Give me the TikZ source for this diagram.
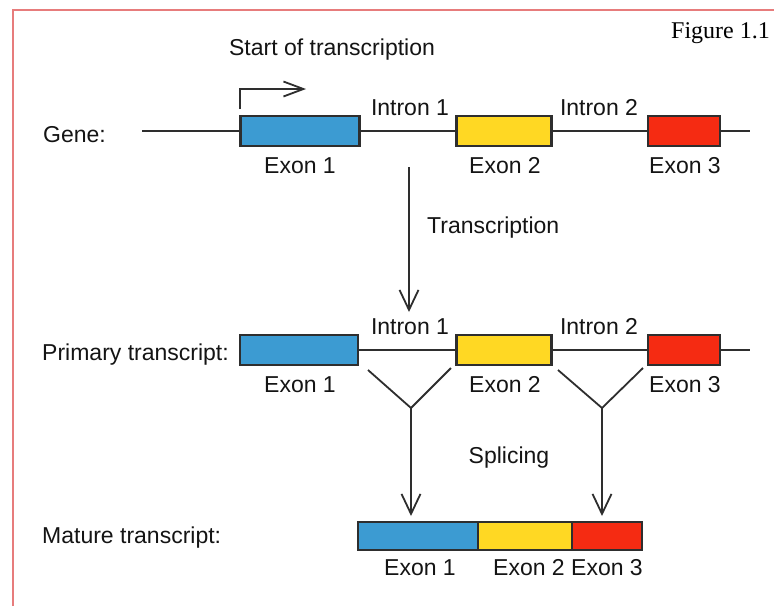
\documentclass[tikz,border=0pt]{standalone}
\usepackage{fontspec}
\setmainfont{Liberation Sans}
\newfontfamily\timesfont{Liberation Serif}
\usetikzlibrary{arrows.meta}
\definecolor{exblue}{HTML}{3C9BD2}
\definecolor{exyellow}{HTML}{FFD823}
\definecolor{exred}{HTML}{F52B12}
\definecolor{dnaline}{HTML}{2E2E2E}
\definecolor{frame}{HTML}{E77C7C}
\begin{document}
\begin{tikzpicture}[x=1pt,y=-1pt,
  exon/.style={draw=dnaline, line width=2.2pt, minimum height=30pt, inner sep=0pt},
  lbl/.style={inner sep=0pt, font=\fontsize{23}{26}\selectfont, text=black!92},
  strand/.style={draw=dnaline, line width=2pt},
  arr/.style={draw=dnaline, line width=1.8pt, -{Straight Barb[length=20pt,width=19pt,line width=1.8pt]}}]
\useasboundingbox (0,0) rectangle (774,606);
\fill[white] (0,0) rectangle (774,606);
% frame
\draw[frame, line width=2pt] (13,606) -- (13,10) -- (774,10);
% figure label
\node[anchor=west, inner sep=0pt, font=\timesfont\fontsize{24}{27}\selectfont] (fig) at (671,33) {Figure 1.1};

% ---- Gene row ----
\coordinate (gstart) at (142,131);
\coordinate (gend) at (750,131);
\draw[strand] (gstart) -- (gend);
\node[exon, fill=exblue, minimum width=119pt] (g1) at (300,131) {};
\node[exon, fill=exyellow, minimum width=95pt] (g2) at (504,131) {};
\node[exon, fill=exred, minimum width=72pt] (g3) at (684,131) {};
\node[lbl, anchor=west] (gene) at (43,135) {Gene:};
\node[lbl] (gl1) at (300,166) {Exon 1};
\node[lbl] (gl2) at (505,166) {Exon 2};
\node[lbl] (gl3) at (685,166) {Exon 3};
\node[lbl] (gi1) at (410,108) {Intron 1};
\node[lbl] (gi2) at (599,108) {Intron 2};
\node[lbl] (start) at (332,50) {Start of transcription};
\coordinate (bentA) at (240,109);
\coordinate (bentB) at (240,89);
\coordinate (bentC) at (306,89);
\draw[arr, -{Straight Barb[length=20pt,width=15pt,line width=1.8pt]}] (bentA) -- (bentB) -- (bentC);

% ---- Transcription ----
\coordinate (tA) at (409,167);
\coordinate (tB) at (409,312);
\draw[arr] (tA) -- (tB);
\node[lbl, anchor=west] (trans) at (427,228) {Transcription};

% ---- Primary transcript ----
\coordinate (pend) at (750,350);
\node[exon, fill=exblue, minimum width=118pt] (p1) at (299,350) {};
\node[exon, fill=exyellow, minimum width=95pt] (p2) at (504,350) {};
\node[exon, fill=exred, minimum width=72pt] (p3) at (684,350) {};
\draw[strand] (p1.east) -- (p2.west) (p2.east) -- (p3.west) (p3.east) -- (pend);
\node[lbl, anchor=west] (prim) at (42,355) {Primary transcript:};
\node[lbl] (pl1) at (300,385) {Exon 1};
\node[lbl] (pl2) at (505,385) {Exon 2};
\node[lbl] (pl3) at (685,385) {Exon 3};
\node[lbl] (pi1) at (410,327) {Intron 1};
\node[lbl] (pi2) at (599,327) {Intron 2};

% ---- Splicing ----
\coordinate (v1a) at (368,370);
\coordinate (v1) at (411,408);
\coordinate (v1b) at (451,368);
\coordinate (v2a) at (558,370);
\coordinate (v2) at (602,408);
\coordinate (v2b) at (643,368);
\coordinate (m1) at (411,516);
\coordinate (m2) at (602,516);
\draw[strand, line width=1.8pt] (v1a) -- (v1) -- (v1b);
\draw[strand, line width=1.8pt] (v2a) -- (v2) -- (v2b);
\draw[arr] (v1) -- (m1);
\draw[arr] (v2) -- (m2);
\node[lbl] (spl) at (509,458) {Splicing};

% ---- Mature transcript ----
\node[exon, fill=exblue, minimum width=120pt, minimum height=28pt] (r1) at (418,536) {};
\node[exon, fill=exyellow, minimum width=94pt, minimum height=28pt] (r2) at (525,536) {};
\node[exon, fill=exred, minimum width=70pt, minimum height=28pt] (r3) at (607,536) {};
\node[lbl, anchor=west] (mat) at (42,538) {Mature transcript:};
\node[lbl] (rl1) at (420,568) {Exon 1};
\node[lbl] (rl2) at (529,568) {Exon 2};
\node[lbl] (rl3) at (607,568) {Exon 3};
\end{tikzpicture}
\end{document}
